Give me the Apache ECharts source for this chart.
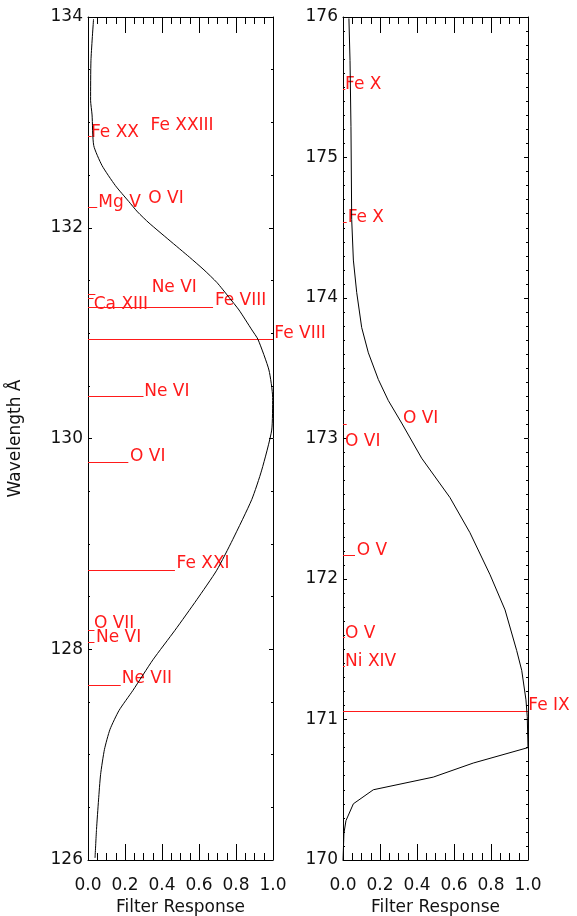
<!DOCTYPE html>
<html>
<head>
<meta charset="utf-8">
<script src="https://cdn.jsdelivr.net/npm/echarts@6/dist/echarts.min.js"></script>
<style>
  html, body { margin: 0; padding: 0; background: #fff; }
  #chart { width: 577px; height: 916px; }
</style>
</head>
<body>
<div id="chart"></div>
<script>
// filter response curves (response, wavelength)
var leftCurveResp = [0.030, 0.016, 0.014, 0.022, 0.031, 0.076, 0.148, 0.220, 0.268, 0.330, 0.438, 0.549, 0.627, 0.697, 0.762, 0.816, 0.886, 0.919, 0.978, 0.998, 0.993, 0.939, 0.885, 0.782, 0.696, 0.588, 0.470, 0.351, 0.243, 0.168, 0.119, 0.089, 0.068, 0.057, 0.046, 0.038]
var leftCurveWave = [133.98, 133.59, 133.21, 133.07, 132.78, 132.59, 132.40, 132.25, 132.15, 132.045, 131.884, 131.72, 131.60, 131.48, 131.34, 131.22, 131.03, 130.94, 130.65, 130.39, 130.08, 129.70, 129.42, 129.04, 128.75, 128.47, 128.18, 127.90, 127.61, 127.42, 127.24, 127.05, 126.81, 126.57, 126.29, 126.02]

var rightCurveResp = [0.032, 0.038, 0.043, 0.047, 0.056, 0.074, 0.101, 0.137, 0.191, 0.245, 0.317, 0.425, 0.578, 0.686, 0.795, 0.876, 0.939, 0.966, 0.989, 0.996, 1.000, 0.704, 0.488, 0.164, 0.056, 0.016, 0.005, 0.002, 0.000]
var rightCurveWave = [175.99, 175.69, 175.22, 174.56, 174.27, 174.04, 173.79, 173.61, 173.42, 173.27, 173.11, 172.86, 172.58, 172.33, 172.03, 171.78, 171.49, 171.35, 171.14, 171.02, 170.80, 170.69, 170.59, 170.50, 170.40, 170.28, 170.19, 170.07, 170.00]

// spectral lines: wavelength, line length (response units), label anchor
var leftIons   = ['Fe XX', 'Fe XXIII', 'Mg V', 'O VI', 'Ne VI', 'Ca XIII', 'Fe VIII', 'Fe VIII', 'Ne VI', 'O VI', 'Fe XXI', 'O VII', 'Ne VI', 'Ne VII']
var leftWave   = [132.87, 132.91, 132.20, 132.22, 131.37, 131.33, 131.245, 130.94, 130.40, 129.78, 128.75, 128.18, 128.07, 127.66]
var leftLen    = [0.02, 0, 0.05, 0, 0.04, 0.03, 0.676, 1.0, 0.30, 0.218, 0.47, 0.035, 0.035, 0.177]
var leftLabelX = [0.016, 0.338, 0.056, 0.326, 0.344, 0.031, 0.686, 1.007, 0.304, 0.227, 0.479, 0.032, 0.043, 0.182]
var leftLabelY = [132.90, 132.97, 132.235, 132.28, 131.43, 131.27, 131.31, 130.997, 130.45, 129.83, 128.81, 128.24, 128.11, 127.72]

var rightIons   = ['Fe X', 'Fe X', 'O VI', 'O VI', 'O V', 'O V', 'Ni XIV', 'Fe IX']
var rightWave   = [175.49, 174.54, 173.10, 173.10, 172.17, 171.59, 171.38, 171.06]
var rightLen    = [0.012, 0.02, 0, 0.02, 0.065, 0.01, 0.01, 1.0]
var rightLabelX = [0.011, 0.025, 0.324, 0.011, 0.074, 0.011, 0.011, 1.002]
var rightLabelY = [175.52, 174.57, 173.14, 172.98, 172.20, 171.61, 171.41, 171.10]

var FONT = 'DejaVu Sans'
var INK = '#111'
var RED = '#ff1a1a'

var myChart = echarts.init(document.getElementById('chart'))

function pairs (xs, ys) {
  return xs.map(function (x, i) { return [x, ys[i]] })
}

function ionSeries (names, wave, len, lx, ly, xi, yi) {
  return {
    type: 'custom',
    xAxisIndex: xi,
    yAxisIndex: yi,
    clip: false,
    silent: true,
    data: wave.map(function (w, i) { return [len[i], w, lx[i], ly[i]] }),
    encode: { x: 0, y: 1 },
    renderItem: function (params, api) {
      var w = api.value(1)
      var l = api.value(0)
      var p0 = api.coord([0, w])
      var p1 = api.coord([l, w])
      var pt = api.coord([api.value(2), api.value(3)])
      var children = []
      if (l > 0) {
        children.push({
          type: 'line',
          shape: { x1: p0[0], y1: Math.round(p0[1]) + 0.5, x2: p1[0], y2: Math.round(p1[1]) + 0.5 },
          style: { stroke: RED, lineWidth: 1 }
        })
      }
      children.push({
        type: 'text',
        x: pt[0],
        y: pt[1],
        style: {
          text: names[params.dataIndex],
          fill: RED,
          font: '17px "' + FONT + '"',
          align: 'left',
          verticalAlign: 'middle'
        }
      })
      return { type: 'group', children: children }
    }
  }
}

function xAxes (grid) {
  var base = {
    gridIndex: grid,
    type: 'value',
    min: 0,
    max: 1,
    interval: 0.2,
    axisLine: { show: true, onZero: false, lineStyle: { color: '#000', width: 1 } },
    axisTick: { show: true, inside: true, length: 16, lineStyle: { color: '#000' } },
    minorTick: { show: true, splitNumber: 4, length: 7, lineStyle: { color: '#000' } },
    splitLine: { show: false }
  }
  var bottom = Object.assign({}, base, {
    position: 'bottom',
    name: 'Filter Response',
    nameLocation: 'middle',
    nameGap: 37,
    nameTextStyle: { fontFamily: FONT, fontSize: 17, color: INK },
    axisLabel: {
      margin: 17,
      fontFamily: FONT,
      fontSize: 17,
      color: INK,
      formatter: function (v) { return v.toFixed(1) }
    }
  })
  var top = Object.assign({}, base, { position: 'top', axisLabel: { show: false } })
  return [bottom, top]
}

function yAxes (grid, min, max, interval, minorSplit, name) {
  var base = {
    gridIndex: grid,
    type: 'value',
    min: min,
    max: max,
    interval: interval,
    axisLine: { show: true, onZero: false, lineStyle: { color: '#000', width: 1 } },
    axisTick: { show: true, inside: true, length: 4, lineStyle: { color: '#000' } },
    minorTick: { show: true, splitNumber: minorSplit, length: 2, lineStyle: { color: '#000' } },
    splitLine: { show: false }
  }
  var left = Object.assign({}, base, {
    position: 'left',
    axisLabel: { margin: 5, fontFamily: FONT, fontSize: 17, color: INK }
  })
  if (name) {
    left.name = name
    left.nameLocation = 'middle'
    left.nameGap = 64
    left.nameRotate = 90
    left.nameTextStyle = { fontFamily: FONT, fontSize: 17, color: INK }
  }
  var right = Object.assign({}, base, { position: 'right', axisLabel: { show: false } })
  return [left, right]
}

var option = {
  backgroundColor: '#fff',
  animation: false,
  grid: [
    { left: 88, top: 17, width: 185, height: 843, outerBoundsMode: 'none' },
    { left: 343, top: 17, width: 185, height: 843, outerBoundsMode: 'none' }
  ],
  xAxis: xAxes(0).concat(xAxes(1)),
  yAxis: yAxes(0, 126, 134, 2, 4, 'Wavelength Å').concat(yAxes(1, 170, 176, 1, 10, null)),
  series: [
    {
      type: 'line',
      xAxisIndex: 0,
      yAxisIndex: 0,
      data: pairs(leftCurveResp, leftCurveWave),
      showSymbol: false,
      smooth: 0.2,
      lineStyle: { color: '#000', width: 1 },
      silent: true
    },
    {
      type: 'line',
      xAxisIndex: 2,
      yAxisIndex: 2,
      data: pairs(rightCurveResp, rightCurveWave),
      showSymbol: false,
      lineStyle: { color: '#000', width: 1 },
      silent: true
    },
    ionSeries(leftIons, leftWave, leftLen, leftLabelX, leftLabelY, 0, 0),
    ionSeries(rightIons, rightWave, rightLen, rightLabelX, rightLabelY, 2, 2)
  ]
}

myChart.setOption(option)
</script>
</body>
</html>
